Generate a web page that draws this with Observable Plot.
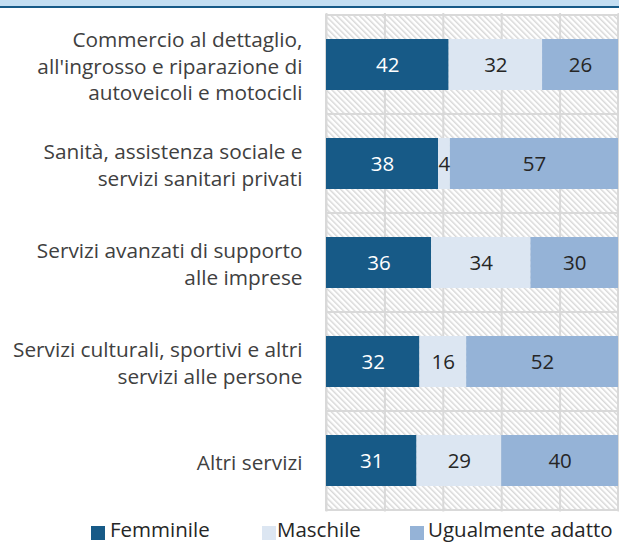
<!DOCTYPE html>
<html>
<head>
<meta charset="utf-8">
<script src="https://cdn.jsdelivr.net/npm/d3@7"></script>
<script src="https://cdn.jsdelivr.net/npm/@observablehq/plot@0.6"></script>
<style>
  html, body { margin: 0; padding: 0; background: #fff; }
  #wrap { position: relative; width: 619px; height: 544px; overflow: hidden; font-family: "Open Sans", sans-serif; }
  #band { position: absolute; left: 0; top: 0; width: 619px; height: 5.5px; background: #c3def2; }
  #line { position: absolute; left: 0; top: 5.5px; width: 619px; height: 2.5px; background: #175a87; }
  #chart { position: absolute; left: 0; top: 8px; }
  .leg { position: absolute; top: 518px; font-size: 20.5px; color: #262626; line-height: 22px; height: 22px; white-space: nowrap; }
  .sw { position: absolute; top: 526px; width: 14px; height: 14px; }
</style>
</head>
<body>
<div id="wrap">
  <div id="band"></div>
  <div id="line"></div>
  <div id="chart"></div>
  <div id="legend"></div>
</div>
<script>
const categories = [
  "Commercio al dettaglio,\nall'ingrosso e riparazione di\nautoveicoli e motocicli",
  "Sanità, assistenza sociale e\nservizi sanitari privati",
  "Servizi avanzati di supporto\nalle imprese",
  "Servizi culturali, sportivi e altri\nservizi alle persone",
  "Altri servizi"
];
const seriesNames = ["Femminile", "Maschile", "Ugualmente adatto"];
const femminile = [42, 38, 36, 32, 31];
const maschile = [32, 4, 34, 16, 29];
const ugualmente = [26, 57, 30, 52, 40];
const seriesColors = ["#175a87", "#dce6f2", "#95b3d7"];
const labelColors = ["#ffffff", "#262626", "#262626"];
const gridTicks = [0, 0.2, 0.4, 0.6, 0.8, 1];

const seriesValues = [femminile, maschile, ugualmente];
const data = [];
seriesNames.forEach((s, si) => {
  categories.forEach((c, ci) => {
    data.push({cat: c, series: s, value: seriesValues[si][ci]});
  });
});

const font = "'Open Sans', sans-serif";

const svg = Plot.plot({
  width: 619,
  height: 510,
  marginLeft: 326,
  marginRight: 1,
  marginTop: 5,
  marginBottom: 6.5,
  style: {fontFamily: font, background: "transparent"},
  x: {domain: [0, 1], axis: null},
  y: {domain: categories, axis: null, paddingInner: 0.48, paddingOuter: 0.24},
  color: {domain: seriesNames, range: seriesColors},
  marks: [
    Plot.barX(categories, {x1: 0, x2: 1, y: d => d, insetTop: -24, insetBottom: -24,
      fill: "url(#hatch)", stroke: "#d9d9d9", strokeWidth: 2}),
    Plot.ruleX(gridTicks, {stroke: "#d9d9d9", strokeWidth: 2}),
    Plot.barX(data, Plot.stackX({x: "value", y: "cat", z: "series", fill: "series", offset: "normalize", order: seriesNames})),
    Plot.text(data, Plot.stackX({x: "value", y: "cat", z: "series", offset: "normalize", order: seriesNames,
      text: d => String(d.value),
      fill: d => labelColors[seriesNames.indexOf(d.series)],
      fontSize: 20.5, fontFamily: font})),
    Plot.text(categories, {y: d => d, frameAnchor: "left", textAnchor: "end", dx: -24,
      text: d => d, fontSize: 20.8, lineHeight: 1.275, fill: "#404040", fontFamily: font})
  ]
});

d3.select(svg).insert("defs", ":first-child").html(
  '<pattern id="hatch" patternUnits="userSpaceOnUse" width="4" height="4" patternTransform="rotate(-45)">' +
  '<rect width="4" height="4" fill="#ffffff"/>' +
  '<line x1="0.75" y1="0" x2="0.75" y2="4" stroke="#d6d6d6" stroke-width="1.4"/></pattern>'
);
document.getElementById("chart").appendChild(svg);

const legend = document.getElementById("legend");
const legPos = [[91, 110], [262, 277], [410, 428]];
seriesNames.forEach((s, i) => {
  const sw = document.createElement("div");
  sw.className = "sw";
  sw.style.left = legPos[i][0] + "px";
  sw.style.background = seriesColors[i];
  legend.appendChild(sw);
  const t = document.createElement("div");
  t.className = "leg";
  t.style.left = legPos[i][1] + "px";
  t.textContent = s;
  legend.appendChild(t);
});
</script>
</body>
</html>
